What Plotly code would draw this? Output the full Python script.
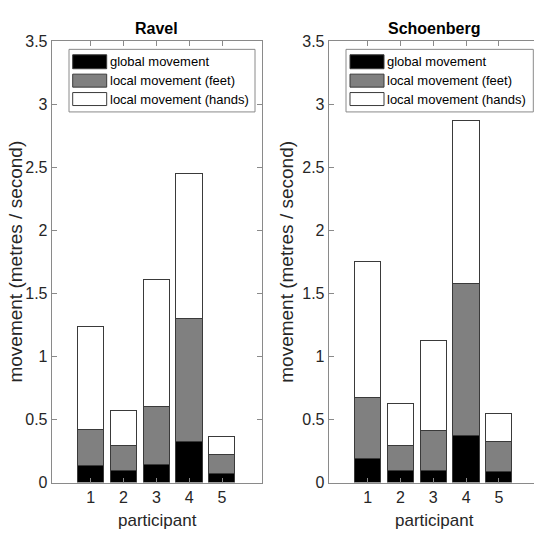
import plotly.graph_objects as go

W, H = 534, 541

participants = [1, 2, 3, 4, 5]
series_names = ["global movement", "local movement (feet)", "local movement (hands)"]
series_colors = ["#000000", "#808080", "#ffffff"]

# Ravel: stacked components (metres / second)
ravel_global = [0.13, 0.09, 0.14, 0.32, 0.065]
ravel_feet = [0.29, 0.20, 0.46, 0.98, 0.155]
ravel_hands = [0.81, 0.28, 1.01, 1.15, 0.14]

# Schoenberg: stacked components (metres / second)
schoen_global = [0.19, 0.09, 0.095, 0.37, 0.085]
schoen_feet = [0.48, 0.20, 0.315, 1.205, 0.235]
schoen_hands = [1.075, 0.335, 0.71, 1.29, 0.225]

yticks = [0, 0.5, 1, 1.5, 2, 2.5, 3, 3.5]
titles = ["Ravel", "Schoenberg"]
ylabel = "movement (metres / second)"
xlabel = "participant"

FONT = "Liberation Sans, Arial, Helvetica, sans-serif"
AX = "#8a8a8a"
TXT = "#262626"
EDGE = "#3a3a3a"


def PX(x):
    return x / W


def PY(y):
    return 1 - y / H


fig = go.Figure()

panels = [
    ("x", "y", [ravel_global, ravel_feet, ravel_hands]),
    ("x2", "y2", [schoen_global, schoen_feet, schoen_hands]),
]
for xa, ya, comps in panels:
    for name, col, vals in zip(series_names, series_colors, comps):
        fig.add_trace(go.Bar(
            x=participants, y=vals, name=name, xaxis=xa, yaxis=ya,
            width=0.8, marker=dict(color=col, line=dict(color=EDGE, width=1)),
            showlegend=False,
        ))

ydom = [PY(490), PY(34)]
common_x = dict(
    tickvals=participants, ticks="inside", ticklen=5, tickcolor=AX,
    showline=True, linecolor=AX, linewidth=1, mirror="ticks",
    showgrid=False, zeroline=False, fixedrange=True,
    tickfont=dict(family=FONT, size=16, color=TXT),
)
common_y = dict(
    range=[0, 3.5], tickvals=yticks, ticks="inside", ticklen=5, tickcolor=AX,
    showline=True, linecolor=AX, linewidth=1,
    showgrid=False, zeroline=False, fixedrange=True,
    tickfont=dict(family=FONT, size=16, color=TXT),
)

fig.update_layout(
    width=W, height=H, autosize=False,
    margin=dict(l=0, r=0, t=0, b=0, pad=0),
    paper_bgcolor="white", plot_bgcolor="white",
    barmode="stack", bargap=0,
    showlegend=False,
    xaxis=dict(domain=[PX(51.7), PX(261.7)], range=[-0.19, 6.21], anchor="y", **common_x),
    yaxis=dict(domain=ydom, anchor="x", mirror="ticks", **common_y),
    xaxis2=dict(domain=[PX(328.7), 1.0], range=[-0.19, 6.07], anchor="y2", **common_x),
    yaxis2=dict(domain=ydom, anchor="x2", mirror=False, **common_y),
)

annotations = []
shapes = []

# titles and axis labels
for cx, ylab_x, t in [(156.7, 15.8, titles[0]), (433.5, 287.0, titles[1])]:
    annotations.append(dict(
        x=PX(cx), y=PY(21), xref="paper", yref="paper", text="<b>%s</b>" % t,
        showarrow=False, xanchor="center", yanchor="middle",
        font=dict(family=FONT, size=16, color="#000000"),
    ))
    annotations.append(dict(
        x=PX(ylab_x), y=PY(262), xref="paper", yref="paper", text=ylabel,
        showarrow=False, xanchor="center", yanchor="middle", textangle=-90,
        font=dict(family=FONT, size=19, color=TXT),
    ))

for cx in [157.5, 434.0]:
    annotations.append(dict(
        x=PX(cx), y=PY(529), xref="paper", yref="paper", text=xlabel,
        showarrow=False, xanchor="center", yanchor="middle",
        font=dict(family=FONT, size=17, color=TXT),
    ))

# manual legends
row_y = [(48.3, 62.7), (68.3, 81.7), (87.3, 100.7)]
for bx0, bx1, sx0, sx1, tx in [(69, 255, 72.7, 106.7, 108.0), (346, 533.3, 350, 384, 385.0)]:
    shapes.append(dict(
        type="rect", xref="paper", yref="paper",
        x0=PX(bx0), x1=PX(bx1), y0=PY(107.3), y1=PY(42.7),
        fillcolor="white", line=dict(color=AX, width=1), layer="above",
    ))
    for (y0, y1), col, name in zip(row_y, series_colors, series_names):
        shapes.append(dict(
            type="rect", xref="paper", yref="paper",
            x0=PX(sx0), x1=PX(sx1), y0=PY(y1), y1=PY(y0),
            fillcolor=col, line=dict(color=EDGE, width=1), layer="above",
        ))
        annotations.append(dict(
            x=PX(tx), y=PY((y0 + y1) / 2), xref="paper", yref="paper", text=name,
            showarrow=False, xanchor="left", yanchor="middle",
            font=dict(family=FONT, size=13, color="#000000"),
        ))

fig.update_layout(annotations=annotations, shapes=shapes)

fig.write_html(
    "out.html",
    config=dict(displayModeBar=False, responsive=False),
    post_script="document.body.style.margin='0';document.body.style.padding='0';"
                "document.body.style.overflow='hidden';",
)
